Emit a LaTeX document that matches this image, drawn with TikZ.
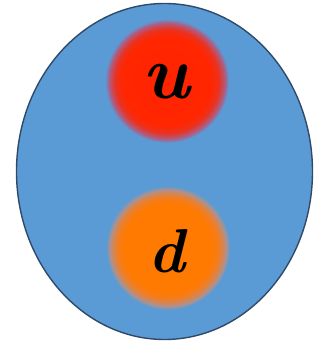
\documentclass[tikz,border=0pt]{standalone}
\usepackage{fontspec}
\definecolor{bagblue}{HTML}{5B9BD5}
\definecolor{bagedge}{HTML}{2F4A68}
\pgfdeclareradialshading{redblob}{\pgfpointorigin}{
  color(0bp)=({rgb,255:red,255;green,36;blue,0}); color(18bp)=({rgb,255:red,255;green,38;blue,0});
  color(21bp)=({rgb,255:red,234;green,50;blue,32}); color(23.5bp)=({rgb,255:red,170;green,95;blue,135});
  color(25bp)=(bagblue); color(50bp)=(bagblue)}
\pgfdeclareradialshading{orangeblob}{\pgfpointorigin}{
  color(0bp)=({rgb,255:red,255;green,122;blue,0}); color(18bp)=({rgb,255:red,255;green,122;blue,0});
  color(21bp)=({rgb,255:red,238;green,126;blue,42}); color(23.5bp)=({rgb,255:red,175;green,145;blue,140});
  color(25bp)=(bagblue); color(50bp)=(bagblue)}
\tikzset{
  bag/.style={draw=bagedge, line width=1.4pt, fill=bagblue},
  quark/.style={inner sep=0pt, text=black, font=\fontsize{76}{78}\selectfont\bfseries\itshape},
}
\begin{document}
\begin{tikzpicture}[x=1pt,y=1pt]
\useasboundingbox (0,0) rectangle (321,343);
\draw[bag] (164.5,171.5) ellipse [x radius=148, y radius=168];
\shade[shading=redblob] (167,262) circle [radius=62];
\shade[shading=orangeblob] (168,95) circle [radius=62];
\node[quark] (u) at (166.5,261) {u};
\node[quark, font=\fontsize{62}{64}\selectfont\bfseries\itshape] (d) at (166.5,91.5) {d};
\end{tikzpicture}
\end{document}
